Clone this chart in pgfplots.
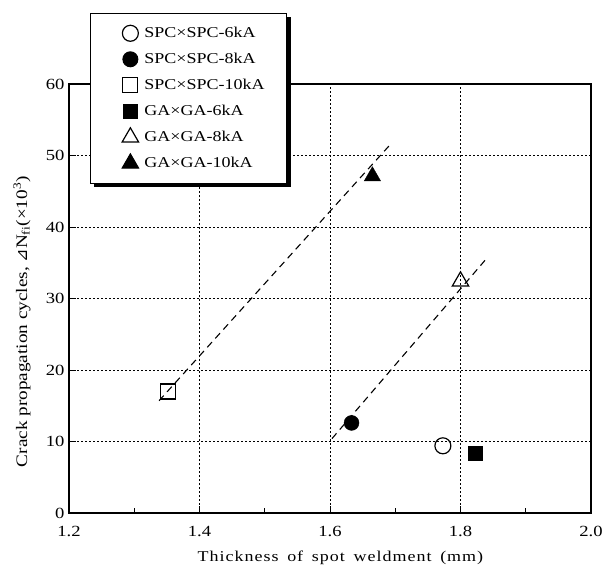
\documentclass[border=0pt]{standalone}
\usepackage{fontspec}
\setmainfont{Liberation Serif}[FakeStretch=1.2]
\newfontfamily\xlabfont{Liberation Serif}[FakeStretch=1.2, LetterSpace=6.5, WordSpace=1.6]
\newfontfamily\dejavu{DejaVu Sans}
\usepackage{pgfplots}
\pgfplotsset{compat=1.18}
\usetikzlibrary{shadows}
\begin{document}
\begin{tikzpicture}[x=1pt,y=1pt]
\path[use as bounding box] (0,0) rectangle (605,568);
\begin{axis}[
  at={(69pt,55pt)}, anchor=south west,
  scale only axis, width=522pt, height=429pt,
  xmin=1.2, xmax=2.0, ymin=0, ymax=60,
  xtick={1.2,1.4,1.6,1.8,2.0},
  xticklabels={1.2,1.4,1.6,1.8,2.0},
  minor xtick={1.3,1.5,1.7,1.9},
  ytick={0,10,20,30,40,50,60},
  tick align=inside, tick pos=left,
  major tick length=7pt, minor tick length=5pt,
  every tick/.style={black, line width=0.9pt},
  grid=major,
  major grid style={black, line width=0.6pt, dash pattern=on 2pt off 2pt},
  axis line style={line width=1.3pt},
  /pgf/number format/assume math mode=true,
  ticklabel style={font=\fontsize{15.5}{15.5}\selectfont},
  xticklabel style={yshift=-10pt},
  yticklabel style={xshift=-1pt},
  label style={font=\fontsize{16}{16}\selectfont},
  xlabel={\xlabfont\fontsize{15}{15}\selectfont Thickness of spot weldment (mm)},
  ylabel={Crack propagation cycles, {\dejavu\itshape ⊿}N\textsubscript{fi}(×10\textsuperscript{3})},
  xlabel style={at={(axis description cs:0.52,-0.105)}, anchor=center},
  ylabel style={at={(axis description cs:-0.09,0.446)}, anchor=center},
  legend style={at={(axis description cs:0.04,1.166)}, anchor=north west,
    draw=black, line width=1pt, fill=white,
    font=\fontsize{15}{15}\selectfont,
    inner xsep=20pt, inner ysep=10pt, row sep=6pt,
    drop shadow={shadow xshift=4pt, shadow yshift=-4pt, fill=black, opacity=1}},
  legend image code/.code={\path[draw=none, fill=none] (0pt,-10pt) (32pt,10pt); \draw[#1] plot coordinates {(20pt,0pt)};},
  legend cell align=left,
  clip=false,
]
\addplot[forget plot, black, line width=1.1pt, dash pattern=on 7pt off 5pt] coordinates {(1.338,15.7) (1.693,51.6)};
\addplot[forget plot, black, line width=1.1pt, dash pattern=on 7pt off 5pt] coordinates {(1.603,10.4) (1.840,35.6)};
\addplot[only marks, mark=o, mark size=8pt, mark options={black, line width=1.2pt, fill=white}] coordinates {(1.773,9.4)};
\addlegendentry{SPC×SPC-6kA}
\addplot[only marks, mark=*, mark size=7.5pt, mark options={black, fill=black}] coordinates {(1.633,12.6)};
\addlegendentry{SPC×SPC-8kA}
\addplot[only marks, mark=square, mark size=7.5pt, mark options={black, line width=1.2pt, fill=white}] coordinates {(1.352,17.0)};
\addlegendentry{SPC×SPC-10kA}
\addplot[only marks, mark=square*, mark size=7pt, mark options={black, fill=black}] coordinates {(1.823,8.4)};
\addlegendentry{GA×GA-6kA}
\addplot[only marks, mark=triangle, mark size=9.5pt, mark options={black, line width=1.2pt, fill=white}] coordinates {(1.800,32.4)};
\addlegendentry{GA×GA-8kA}
\addplot[only marks, mark=triangle*, mark size=9.5pt, mark options={black, fill=black}] coordinates {(1.665,47.1)};
\addlegendentry{GA×GA-10kA}
\end{axis}
\end{tikzpicture}
\end{document}
